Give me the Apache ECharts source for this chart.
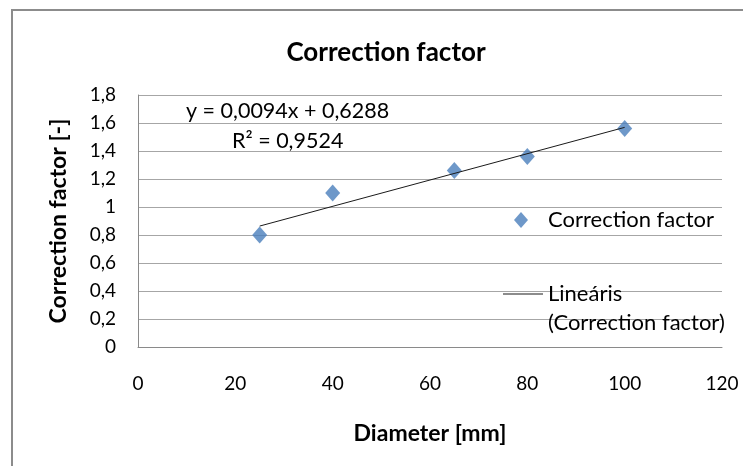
<!DOCTYPE html>
<html>
<head>
<meta charset="utf-8">
<script src="https://cdn.jsdelivr.net/npm/echarts@6/dist/echarts.min.js"></script>
<style>
  html, body { margin: 0; padding: 0; background: #fff; }
  #chart { width: 743px; height: 466px; }
</style>
</head>
<body>
<div id="chart"></div>
<script>
// Measured correction factor per pipe diameter
const diameters = [25, 40, 65, 80, 100];
const factors = [0.80, 1.10, 1.26, 1.36, 1.56];

// Linear trendline (from the fitted equation)
const slope = 0.0094;
const intercept = 0.6288;
const rSquared = 0.9524;
const trendRange = [25, 100];

const xTicks = { min: 0, max: 120, interval: 20 };
const yTicks = { min: 0, max: 1.8, interval: 0.2 };

const seriesName = 'Correction factor';
const trendName = 'Lineáris\n(Correction factor)';

const FONT = 'Lato, "Open Sans", sans-serif';
const comma = v => String(v).replace('.', ',');
const fmt = (v, d) => v.toFixed(d).replace('.', ',');

const scatterData = diameters.map((d, i) => [d, factors[i]]);
const trendData = trendRange.map(x => [x, intercept + slope * x]);

const chart = echarts.init(document.getElementById('chart'), null, { renderer: 'canvas' });

chart.setOption({
  backgroundColor: '#ffffff',
  animation: false,
  title: {
    text: 'Correction factor',
    left: 381,
    top: 35,
    textAlign: 'center',
    textStyle: { fontFamily: FONT, fontWeight: 'bold', fontSize: 26, color: '#000' }
  },
  grid: { left: 138, right: 21, top: 95, bottom: 119 },
  xAxis: {
    type: 'value',
    min: xTicks.min, max: xTicks.max, interval: xTicks.interval,
    name: 'Diameter [mm]',
    nameLocation: 'middle',
    nameGap: 75,
    nameTextStyle: { fontFamily: FONT, fontWeight: 'bold', fontSize: 23, color: '#000' },
    axisLine: { lineStyle: { color: '#8a8a8a', width: 1 } },
    axisTick: { show: false },
    splitLine: { show: false },
    axisLabel: { fontFamily: FONT, fontSize: 19, color: '#000', margin: 27 }
  },
  yAxis: {
    type: 'value',
    min: yTicks.min, max: yTicks.max, interval: yTicks.interval,
    name: 'Correction factor [-]',
    nameLocation: 'middle',
    nameGap: 68,
    nameTextStyle: { fontFamily: FONT, fontWeight: 'bold', fontSize: 23, color: '#000' },
    axisLine: { show: true, lineStyle: { color: '#8a8a8a', width: 1 } },
    axisTick: { show: false },
    splitLine: { show: true, lineStyle: { color: '#a6a6a6', width: 1 } },
    axisLabel: {
      fontFamily: FONT, fontSize: 19, color: '#000', margin: 22,
      formatter: v => comma(Math.round(v * 10) / 10)
    }
  },
  legend: [
    {
      orient: 'vertical',
      left: 514,
      top: 209,
      padding: 0,
      itemWidth: 14,
      itemHeight: 16,
      textStyle: { fontFamily: FONT, fontSize: 22, color: '#000', padding: [0, 0, 0, 15] },
      data: [{ name: seriesName, icon: 'diamond' }]
    },
    {
      orient: 'vertical',
      left: 503,
      top: 279,
      padding: 0,
      itemWidth: 40,
      itemHeight: 29,
      textStyle: { fontFamily: FONT, fontSize: 22, color: '#000', lineHeight: 29 },
      data: [{
        name: trendName,
        // short rule at the top of a 40x29 box so it lines up with the first text line
        icon: 'path://M0,0 L40,0 L40,1 L0,1 Z M0,29 L40,29 L40,29 Z'
      }]
    }
  ],
  graphic: [
    {
      type: 'rect',
      shape: { x: 12, y: 10, width: 760, height: 480 },
      style: { fill: 'none', stroke: '#8c8c8c', lineWidth: 2 },
      silent: true
    },
    {
      type: 'text',
      left: 186, top: 100,
      style: {
        text: 'y = ' + fmt(slope, 4) + 'x + ' + fmt(intercept, 4),
        font: '21.5px ' + FONT, fill: '#000'
      }
    },
    {
      type: 'text',
      left: 232, top: 130,
      style: {
        text: 'R² = ' + fmt(rSquared, 4),
        font: '21.5px ' + FONT, fill: '#000'
      }
    }
  ],
  series: [
    {
      name: trendName,
      type: 'line',
      data: trendData,
      showSymbol: false,
      lineStyle: { color: '#1a1a1a', width: 1 },
      itemStyle: { color: '#1a1a1a' },
      z: 3
    },
    {
      name: seriesName,
      type: 'scatter',
      data: scatterData,
      symbol: 'diamond',
      symbolSize: [15, 17],
      itemStyle: { color: '#4a7ebb' },
      z: 2
    }
  ]
});
</script>
</body>
</html>
